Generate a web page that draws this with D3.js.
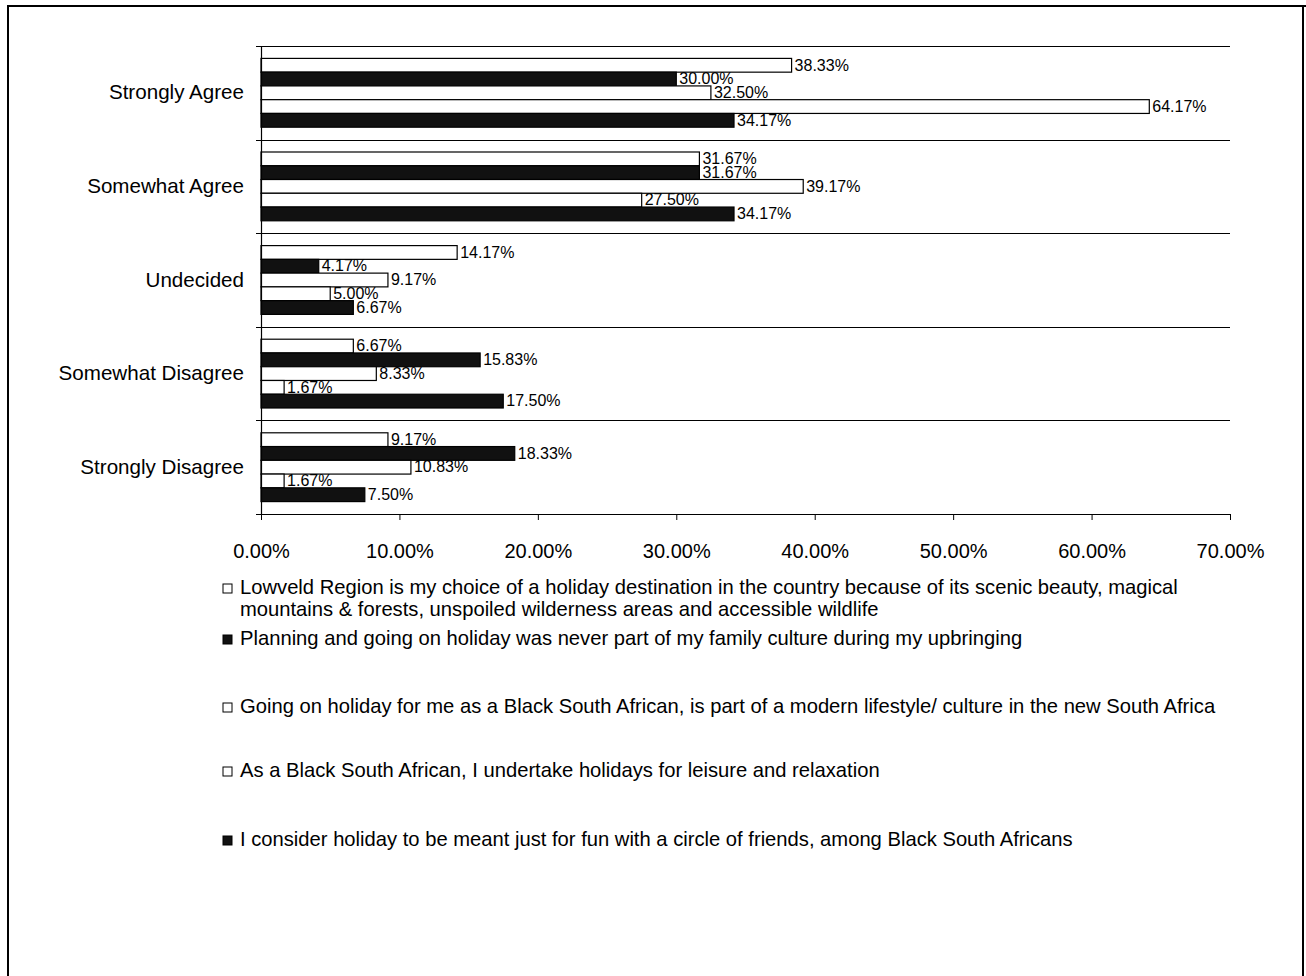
<!DOCTYPE html>
<html>
<head>
<meta charset="utf-8">
<script src="https://cdn.jsdelivr.net/npm/d3@7"></script>
<style>
  html, body { margin: 0; padding: 0; background: #fff; }
  svg { display: block; font-family: "Liberation Sans", Arial, sans-serif; }
</style>
</head>
<body>
<svg id="chart" width="1306" height="976"></svg>
<script>
// Response categories (top to bottom)
const categories = ["Strongly Agree", "Somewhat Agree", "Undecided", "Somewhat Disagree", "Strongly Disagree"];

// Statements (series), in bar order within each category; "|" marks a line break
const seriesNames = [
  "Lowveld Region is my choice of a holiday destination in the country because of its scenic beauty, magical|mountains & forests, unspoiled wilderness areas and accessible wildlife",
  "Planning and going on holiday was never part of my family culture during my upbringing",
  "Going on holiday for me as a Black South African, is part of a modern lifestyle/ culture in the new South Africa",
  "As a Black South African, I undertake holidays for leisure and relaxation",
  "I consider holiday to be meant just for fun with a circle of friends, among Black South Africans"
];

// Percentages per series, one value per category
const lowveldChoice    = [38.33, 31.67, 14.17, 6.67, 9.17];
const notFamilyCulture = [30.00, 31.67, 4.17, 15.83, 18.33];
const modernLifestyle  = [32.50, 39.17, 9.17, 8.33, 10.83];
const leisureRelax     = [64.17, 27.50, 5.00, 1.67, 1.67];
const funWithFriends   = [34.17, 34.17, 6.67, 17.50, 7.50];

const seriesValues = [lowveldChoice, notFamilyCulture, modernLifestyle, leisureRelax, funWithFriends];
const seriesFill = ["#ffffff", "#111111", "#ffffff", "#ffffff", "#111111"];

const xTicks = [0, 10, 20, 30, 40, 50, 60, 70];

const svg = d3.select("#chart");

// Outer frame
svg.append("path")
  .attr("d", "M8,976 L8,6 L1306,6 M1303,6 L1303,976")
  .attr("fill", "none").attr("stroke", "#000").attr("stroke-width", 2);

const plot = { left: 261, right: 1230, top: 46, bottom: 514 };

const x = d3.scaleLinear().domain([0, 70]).range([plot.left, plot.right]);
const y = d3.scaleBand().domain(categories).range([plot.top, plot.bottom])
  .paddingInner(0.265).paddingOuter(0.1325);
const ySub = d3.scaleBand().domain(d3.range(seriesNames.length)).range([0, y.bandwidth()]);

// Category separators
const step = y.step();
const sepYs = d3.range(categories.length).map(i => plot.top + i * step);
svg.append("g").selectAll("line").data(sepYs).join("line")
  .attr("x1", plot.left).attr("x2", plot.right)
  .attr("y1", d => Math.round(d) + 0.5).attr("y2", d => Math.round(d) + 0.5)
  .attr("stroke", "#000").attr("stroke-width", 1.2);

// Bars with value labels
const groups = svg.append("g").selectAll("g").data(categories).join("g")
  .attr("transform", d => `translate(0,${y(d)})`);

groups.each(function(cat, ci) {
  const g = d3.select(this);
  seriesValues.forEach((vals, si) => {
    const v = vals[ci];
    g.append("rect")
      .attr("x", x(0)).attr("y", ySub(si))
      .attr("width", x(v) - x(0)).attr("height", ySub.bandwidth())
      .attr("fill", seriesFill[si]).attr("stroke", "#000").attr("stroke-width", 1.2);
    g.append("text")
      .attr("x", x(v) + 3).attr("y", ySub(si) + ySub.bandwidth() / 2 + 1)
      .attr("dominant-baseline", "middle")
      .attr("font-size", 16).attr("fill", "#000")
      .text(v.toFixed(2) + "%");
  });
});

// Y axis (category labels)
const yAxis = d3.axisLeft(y).tickSize(0).tickPadding(17);
const yg = svg.append("g").attr("transform", `translate(${plot.left},0)`).call(yAxis);
yg.select(".domain").remove();
yg.selectAll("text").attr("font-size", 20.6).attr("font-family", "Liberation Sans, Arial, sans-serif").attr("fill", "#000");
svg.append("line").attr("x1", plot.left + 0.5).attr("x2", plot.left + 0.5)
  .attr("y1", plot.top).attr("y2", plot.bottom).attr("stroke", "#000").attr("stroke-width", 1.2);
svg.append("g").selectAll("line").data(sepYs.concat([plot.bottom])).join("line")
  .attr("x1", plot.left - 5).attr("x2", plot.left)
  .attr("y1", d => Math.round(d) + 0.5).attr("y2", d => Math.round(d) + 0.5)
  .attr("stroke", "#000");

// X axis
const xAxis = d3.axisBottom(x).tickValues(xTicks).tickSize(6).tickPadding(24)
  .tickFormat(d => d.toFixed(2) + "%");
const xg = svg.append("g").attr("transform", `translate(0,${plot.bottom})`).call(xAxis);
xg.select(".domain").attr("d", `M${plot.left},0.5H${plot.right}`).attr("stroke-width", 1.2);
xg.selectAll("text").attr("font-size", 20).attr("font-family", "Liberation Sans, Arial, sans-serif").attr("fill", "#000");

// Legend
const legendY = [589, 640, 708, 772, 841];
const legend = svg.append("g");
seriesNames.forEach((name, i) => {
  const ly = legendY[i];
  legend.append("rect")
    .attr("x", 223).attr("y", ly - 5).attr("width", 9).attr("height", 9)
    .attr("fill", seriesFill[i]).attr("stroke", "#000").attr("stroke-width", 1);
  name.split("|").forEach((ln, k) => {
    legend.append("text")
      .attr("x", 240).attr("y", ly + k * 22)
      .attr("dominant-baseline", "middle")
      .attr("font-size", 20.2).attr("fill", "#000")
      .text(ln);
  });
});
</script>
</body>
</html>
